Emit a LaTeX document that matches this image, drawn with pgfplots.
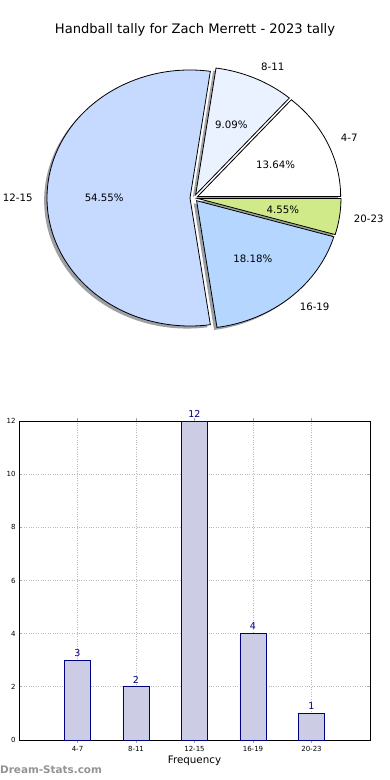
\documentclass[border=0pt]{standalone}
\usepackage{pgfplots}
\pgfplotsset{compat=1.18}
\usepackage{fontspec}
\setmainfont{DejaVu Sans}
\definecolor{slA}{HTML}{FFFFFF}
\definecolor{slB}{HTML}{EAF1FF}
\definecolor{slC}{HTML}{C6D9FF}
\definecolor{slD}{HTML}{B5D6FF}
\definecolor{slE}{HTML}{D0EA8A}
\definecolor{barfill}{HTML}{CCCCE5}
\definecolor{baredge}{HTML}{000080}
\newcommand{\fs}[1]{\fontsize{#1}{#1}\selectfont}
\tikzset{pielab/.style={font=\fs{10.2}}}
\begin{document}
\begin{tikzpicture}
\node[font=\fs{13.1}] at (195pt,-30pt) {Handball tally for Zach Merrett - 2023 tally};

% ---------------- pie ----------------
\begin{axis}[
  scale only axis, width=457.6pt, height=307.2pt,
  xmin=-1.6, xmax=1.6, ymin=-1.2, ymax=1.2,
  hide axis, clip=false,
  anchor=south west, at={(-34.8pt,-351.6pt)},
]
% values: 4-7:3, 8-11:2, 12-15:12, 16-19:4, 20-23:1 (total 22)
\gdef\angstart{0}
\foreach \v/\col in {3/slA,2/slB,12/slC,4/slD,1/slE}{
  \pgfmathsetmacro\a{\angstart}
  \pgfmathsetmacro\b{\angstart+360*\v/22}
  \pgfmathsetmacro\m{(\a+\b)/2}
  \pgfmathsetmacro\ox{0.028*cos(\m)-0.02}
  \pgfmathsetmacro\oy{0.028*sin(\m)-0.02}
  \edef\tmp{\noexpand\fill[\col!30!black, opacity=0.5] (axis cs:\ox,\oy) -- ++(\a:143pt and 128pt) arc[start angle=\a, end angle=\b, x radius=143pt, y radius=128pt] -- cycle;}
  \tmp
  \xdef\angstart{\b}
}
\gdef\angstart{0}
\foreach \v/\col/\lab/\pc/\anc in {3/slA/4-7/13.64/west,2/slB/8-11/9.09/west,12/slC/12-15/54.55/east,4/slD/16-19/18.18/west,1/slE/20-23/4.55/west}{
  \pgfmathsetmacro\a{\angstart}
  \pgfmathsetmacro\b{\angstart+360*\v/22}
  \pgfmathsetmacro\m{(\a+\b)/2}
  \pgfmathsetmacro\ox{0.028*cos(\m)}
  \pgfmathsetmacro\oy{0.028*sin(\m)}
  \pgfmathsetmacro\lx{\ox+1.1*cos(\m)}
  \pgfmathsetmacro\ly{\oy+1.1*sin(\m)}
  \pgfmathsetmacro\px{\ox+0.6*cos(\m)}
  \pgfmathsetmacro\py{\oy+0.6*sin(\m)}
  \edef\tmp{\noexpand\filldraw[fill=\col, draw=black, line width=0.8pt] (axis cs:\ox,\oy) -- ++(\a:143pt and 128pt) arc[start angle=\a, end angle=\b, x radius=143pt, y radius=128pt] -- cycle;
    \noexpand\node[pielab, anchor=\anc, inner sep=0pt] at (axis cs:\lx,\ly) {\lab};
    \noexpand\node[pielab] at (axis cs:\px,\py) {\pc\noexpand\%};}
  \tmp
  \xdef\angstart{\b}
}
\end{axis}

% ---------------- bars ----------------
\begin{axis}[
  scale only axis, width=351pt, height=319pt,
  anchor=south west, at={(19pt,-740pt)},
  xmin=-1, xmax=5, ymin=0, ymax=12,
  xtick={0,1,2,3,4}, xticklabels={4-7,8-11,12-15,16-19,20-23},
  ytick={0,2,4,6,8,10,12},
  grid=major, major grid style={gray!55, dotted, line width=0.9pt},
  tick align=inside, major tick length=3pt, tick style={gray!70, line width=0.8pt},
  ticklabel style={font=\fs{7}},
  /pgf/number format/assume math mode=true,
  xlabel={Frequency}, xlabel style={font=\fs{10.3}, yshift=3pt},
  axis line style={black, line width=0.9pt},
  ybar, bar width=26pt, clip=false,
  nodes near coords, nodes near coords style={font=\fs{9.5}, text=baredge},
]
\addplot[fill=barfill, draw=baredge, line width=0.9pt] coordinates {(0,3) (1,2) (2,12) (3,4) (4,1)};
\end{axis}
\node[rotate=90, anchor=south, font=\fs{10}] at (3pt,-581pt) {Stat Interval};
\node[anchor=west, font=\bfseries\fs{10.4}, text=gray!85, inner sep=0pt] at (0pt,-770pt) {Dream-Stats.com};
\pgfresetboundingbox
\useasboundingbox (0pt,0pt) rectangle (390pt,-780pt);
\end{tikzpicture}
\end{document}
